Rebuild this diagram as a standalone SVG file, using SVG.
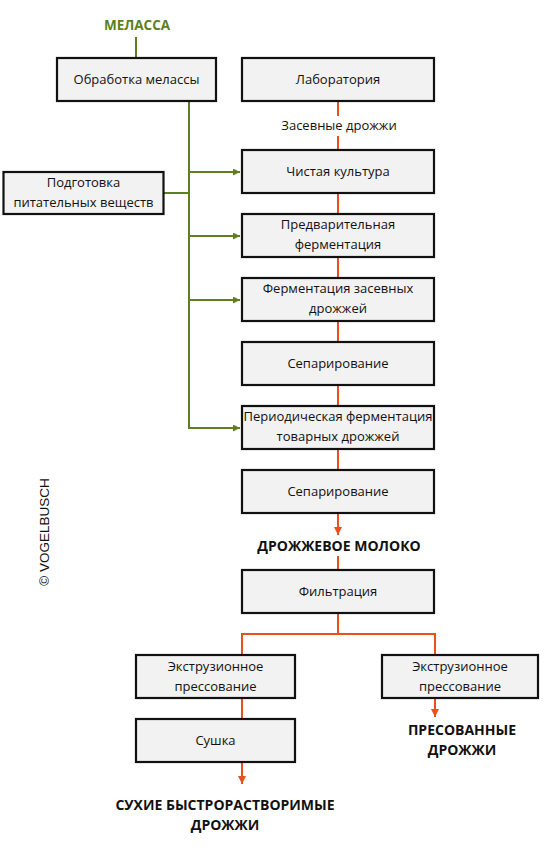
<svg xmlns="http://www.w3.org/2000/svg" width="546" height="860" viewBox="0 0 546 860">
<defs>
<style>
.box{fill:#f2f2f2;stroke:#111;stroke-width:2.2}
.t{font-family:"Open Sans","Noto Sans",sans-serif;font-size:13px;fill:#111;text-anchor:middle}
.b{font-family:"Open Sans","Noto Sans",sans-serif;font-size:14px;font-weight:bold;fill:#111;text-anchor:middle}
.g{stroke:#5e7f1e;stroke-width:2;fill:none}
.r{stroke:#e8501c;stroke-width:2;fill:none}
</style>
<marker id="ag" viewBox="0 0 10 10" refX="10" refY="5" markerWidth="7" markerHeight="7" orient="auto" markerUnits="userSpaceOnUse">
<path d="M0,0 L10,5 L0,10 Z" fill="#5e7f1e"/>
</marker>
<marker id="ar" viewBox="0 0 10 10" refX="10" refY="5" markerWidth="8" markerHeight="8" orient="auto" markerUnits="userSpaceOnUse">
<path d="M0,0 L10,5 L0,10 Z" fill="#e8501c"/>
</marker>
</defs>
<rect width="546" height="860" fill="#fff"/>

<g id="connectors">
<path class="g" d="M136,37 V58"/>
<path class="g" d="M189,101 V428 H240" marker-end="url(#ag)"/>
<path class="g" d="M163,193 H189"/>
<path class="g" d="M189,172 H240" marker-end="url(#ag)"/>
<path class="g" d="M189,236 H240" marker-end="url(#ag)"/>
<path class="g" d="M189,300 H240" marker-end="url(#ag)"/>
<path class="r" d="M338,101 V116 M338,136 V150"/>
<path class="r" d="M338,193 V214 M338,257 V278 M338,321 V342 M338,385 V406 M338,449 V470"/>
<path class="r" d="M338,513 V535" marker-end="url(#ar)"/>
<path class="r" d="M338,556 V570"/>
<path class="r" d="M338,613 V634 M242,655 V634 H435 V655"/>
<path class="r" d="M242,698 V719"/>
<path class="r" d="M242,762 V784" marker-end="url(#ar)"/>
<path class="r" d="M435,698 V717" marker-end="url(#ar)"/>
</g>

<text x="137" y="30" class="b" style="font-size:13.5px;fill:#5e7f1e">МЕЛАССА</text>

<g id="n-obrabotka"><rect class="box" x="57" y="58" width="159" height="43"/><text class="t" x="136.5" y="84">Обработка мелассы</text></g>
<g id="n-lab"><rect class="box" x="242" y="58" width="192" height="43"/><text class="t" x="338" y="84">Лаборатория</text></g>
<text class="t" x="339" y="130">Засевные дрожжи</text>
<g id="n-podgotovka"><rect class="box" x="3.5" y="172" width="160" height="42"/><text class="t" x="83.5" y="187">Подготовка</text><text class="t" x="83.5" y="207">питательных веществ</text></g>
<g id="n-chistaya"><rect class="box" x="242" y="150" width="192" height="43"/><text class="t" x="338" y="176">Чистая культура</text></g>
<g id="n-predvar"><rect class="box" x="242" y="214" width="192" height="43"/><text class="t" x="338" y="229">Предварительная</text><text class="t" x="338" y="249">ферментация</text></g>
<g id="n-ferm-zas"><rect class="box" x="242" y="278" width="192" height="43"/><text class="t" x="338" y="293">Ферментация засевных</text><text class="t" x="338" y="313">дрожжей</text></g>
<g id="n-separ1"><rect class="box" x="242" y="342" width="192" height="43"/><text class="t" x="338" y="368">Сепарирование</text></g>
<g id="n-period"><rect class="box" x="242" y="406" width="192" height="43"/><text class="t" x="338" y="421">Периодическая ферментация</text><text class="t" x="338" y="441">товарных дрожжей</text></g>
<g id="n-separ2"><rect class="box" x="242" y="470" width="192" height="43"/><text class="t" x="338" y="496">Сепарирование</text></g>
<text class="b" x="339" y="551">ДРОЖЖЕВОЕ МОЛОКО</text>
<g id="n-filtr"><rect class="box" x="242" y="570" width="192" height="43"/><text class="t" x="338" y="596">Фильтрация</text></g>
<g id="n-extr1"><rect class="box" x="136" y="655" width="159" height="43"/><text class="t" x="215.5" y="671">Экструзионное</text><text class="t" x="215.5" y="691">прессование</text></g>
<g id="n-extr2"><rect class="box" x="382" y="655" width="156" height="43"/><text class="t" x="460" y="671">Экструзионное</text><text class="t" x="460" y="691">прессование</text></g>
<g id="n-sushka"><rect class="box" x="136" y="719" width="159" height="43"/><text class="t" x="215.5" y="745">Сушка</text></g>
<text class="b" x="462" y="735">ПРЕСОВАННЫЕ</text>
<text class="b" x="462" y="755">ДРОЖЖИ</text>
<text class="b" x="225" y="810">СУХИЕ БЫСТРОРАСТВОРИМЫЕ</text>
<text class="b" x="225" y="830">ДРОЖЖИ</text>
<text transform="translate(49,532) rotate(-90)" text-anchor="middle" style="font-family:'Liberation Sans',Arial,sans-serif;font-size:13.5px;fill:#111">© VOGELBUSCH</text>
</svg>
